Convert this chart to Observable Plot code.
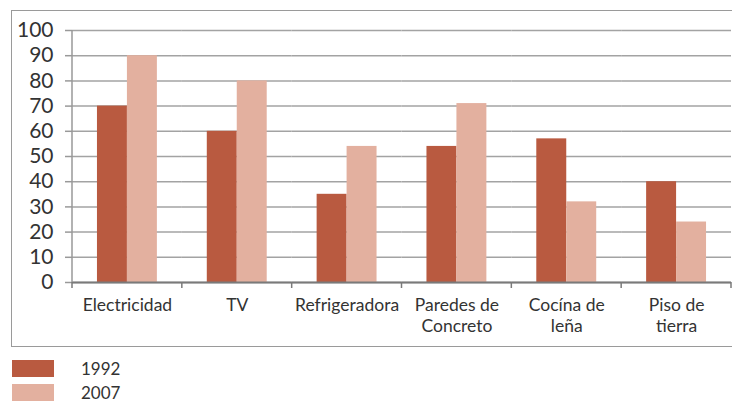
<!DOCTYPE html>
<html>
<head>
<meta charset="utf-8">
<script src="https://cdn.jsdelivr.net/npm/d3@7"></script>
<script src="https://cdn.jsdelivr.net/npm/@observablehq/plot@0.6"></script>
<style>
  html, body { margin: 0; padding: 0; background: #fff; overflow: hidden; }
  #wrap { position: relative; width: 732px; height: 403px; font-family: Lato, "Noto Sans", sans-serif; color: #333; }
  #border { position: absolute; left: 11px; top: 10px; width: 760px; height: 337px; border: 1.5px solid #9a9a9a; box-sizing: border-box; }
  #chart { position: absolute; left: 0; top: 0; }
  #legend { position: absolute; left: 12px; top: 360px; }
  .row { display: flex; align-items: center; height: 17px; margin-bottom: 7px; }
  .sw { width: 42px; height: 17px; }
  .lab { margin-left: 27px; font-size: 17px; line-height: 17px; color: #333; }
</style>
</head>
<body>
<div id="wrap">
  <div id="border"></div>
  <div id="chart"></div>
  <div id="legend"></div>
</div>
<script>
const categories = ["Electricidad", "TV", "Refrigeradora", "Paredes de\nConcreto", "Cocína de\nleña", "Piso de\ntierra"];
const years = ["1992", "2007"];
const values1992 = [70, 60, 35, 54, 57, 40];
const values2007 = [90, 80, 54, 71, 32, 24];
const yTicks = [0, 10, 20, 30, 40, 50, 60, 70, 80, 90, 100];
const colors = ["#B95A40", "#E3B09F"];

const data = categories.flatMap((c, i) => [
  {cat: c, year: years[0], value: values1992[i]},
  {cat: c, year: years[1], value: values2007[i]}
]);

const chart = Plot.plot({
  width: 732,
  height: 352,
  marginLeft: 72,
  marginRight: 1,
  marginTop: 30,
  marginBottom: 70,
  style: {fontFamily: "Lato, 'Noto Sans', sans-serif", color: "#333", background: "transparent"},
  fx: {domain: categories, padding: 0, round: false, label: null, axis: null},
  x: {domain: years, paddingInner: 0, paddingOuter: 0.833, round: false, axis: null},
  y: {domain: [0, 100], axis: null},
  color: {domain: years, range: colors},
  marks: [
    Plot.gridY(yTicks, {stroke: "#a3a3a3", strokeOpacity: 1, strokeWidth: 1.5}),
    Plot.axisY(yTicks, {tickSize: 7, tickPadding: 12, fontSize: 21, stroke: "#999", strokeWidth: 1.5, fill: "#333", label: null}),
    Plot.barY(data, {fx: "cat", x: "year", y: "value", fill: "year"}),
    Plot.ruleY([0], {stroke: "#7a7a7a", strokeWidth: 2}),
    Plot.axisFx({anchor: "bottom", tickSize: 0, tickPadding: 14, fontSize: 17.5, lineHeight: 1.2, fill: "#333", label: null})
  ]
});

document.getElementById("chart").appendChild(chart);

// boundary ticks on x axis and vertical y-axis line, from the library's scales
const fx = chart.scale("fx");
const ys = chart.scale("y");
const starts = fx.domain.map(d => fx.apply(d));
const bounds = starts.concat([starts[starts.length - 1] + fx.bandwidth]);
const y0 = ys.apply(0), yTop = ys.apply(100);
const svg = d3.select(chart);
svg.append("line")
  .attr("x1", bounds[0]).attr("x2", bounds[0])
  .attr("y1", yTop).attr("y2", y0)
  .attr("stroke", "#999").attr("stroke-width", 1.5);
svg.append("g").selectAll("line").data(bounds).join("line")
  .attr("x1", d => d).attr("x2", d => d)
  .attr("y1", y0).attr("y2", y0 + 6)
  .attr("stroke", "#7a7a7a").attr("stroke-width", 1.5);

// legend
const legend = d3.select("#legend");
years.forEach((yr, i) => {
  const row = legend.append("div").attr("class", "row");
  row.append("div").attr("class", "sw").style("background", colors[i]);
  row.append("div").attr("class", "lab").text(yr);
});
</script>
</body>
</html>
